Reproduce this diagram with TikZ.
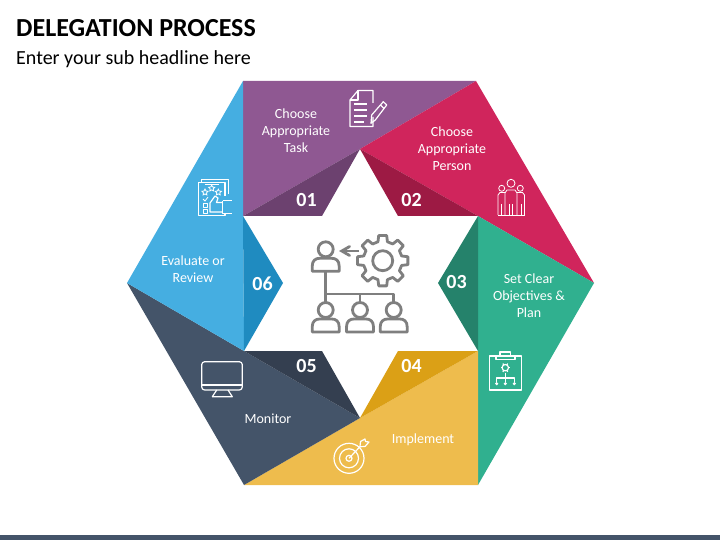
\documentclass[tikz,border=0pt]{standalone}
\usepackage{fontspec}
\setmainfont{Carlito}
\usetikzlibrary{shapes.geometric, arrows}

\definecolor{purplelight}{HTML}{8F5892}
\definecolor{purpledark}{HTML}{6C416F}
\definecolor{crimsonlight}{HTML}{D0255C}
\definecolor{crimsondark}{HTML}{9D1A44}
\definecolor{teallight}{HTML}{30B08F}
\definecolor{tealdark}{HTML}{25826B}
\definecolor{yellowlight}{HTML}{EEBC4D}
\definecolor{yellowdark}{HTML}{DBA016}
\definecolor{navylight}{HTML}{445469}
\definecolor{navydark}{HTML}{343F50}
\definecolor{bluelight}{HTML}{45AEE1}
\definecolor{bluedark}{HTML}{1F8BC0}
\definecolor{icongrey}{HTML}{7F7F7F}

\tikzstyle{headline} = [anchor=west, inner sep=0pt, font=\fontsize{26}{30}\selectfont\bfseries]
\tikzstyle{subline} = [anchor=west, inner sep=0pt, font=\fontsize{20}{24}\selectfont]
\tikzstyle{caption} = [inner sep=0pt, align=center, text=white, font=\fontsize{14}{17}\selectfont]
\tikzstyle{numtext} = [inner sep=0pt, text=white, font=\fontsize{20}{22}\selectfont\bfseries]
\tikzstyle{centreicon} = [draw=icongrey, line width=2.8pt, line join=round]
\tikzstyle{whiteicon} = [draw=white, line width=1.2pt, line join=round]
\tikzstyle{ratestar} = [star, star points=5, star point ratio=2, minimum size=6.5pt, inner sep=0pt, draw=white, line width=0.8pt]

\tikzset{worker/.pic={
  \draw [centreicon] (0,0) circle (7.5);
  \draw [centreicon] (-13.5,22) -- (13.5,22) -- (13.5,17) .. controls (13.5,11) and (10,9) .. (6,9) -- (-6,9) .. controls (-10,9) and (-13.5,11) .. (-13.5,17) -- cycle;
}}

\begin{document}
\begin{tikzpicture}[x=1pt, y=-1pt, >=angle 60]
\useasboundingbox (0,0) rectangle (720,540);

\node at (16,28.5) (title) [headline] {DELEGATION PROCESS};
\node at (16,59.5) (subtitle) [subline] {Enter your sub headline here};
\fill [navylight] (0,535) rectangle (720,540);

% outer hexagon
\coordinate (outertl) at (243,81);
\coordinate (outertr) at (476,81);
\coordinate (outerr) at (594,283);
\coordinate (outerbr) at (478,485);
\coordinate (outerbl) at (244,485);
\coordinate (outerl) at (127,283);

% inner star
\coordinate (innert) at (360,149);
\coordinate (innertr) at (478,216);
\coordinate (innerbr) at (478,351);
\coordinate (innerb) at (360,418);
\coordinate (innerbl) at (244,351);
\coordinate (innertl) at (243,216);

\fill [purplelight] (outertl) -- (outertr) -- (innert) -- (innertl) -- cycle;
\fill [purpledark] (innertl) -- (innert) -- (322,216) -- cycle;
\fill [crimsonlight] (outertr) -- (outerr) -- (innertr) -- (innert) -- cycle;
\fill [crimsondark] (innert) -- (innertr) -- (398,216) -- cycle;
\fill [teallight] (outerr) -- (outerbr) -- (innerbr) -- (innertr) -- cycle;
\fill [tealdark] (innertr) -- (innerbr) -- (438,283) -- cycle;
\fill [yellowlight] (outerbr) -- (outerbl) -- (innerb) -- (innerbr) -- cycle;
\fill [yellowdark] (innerbr) -- (innerb) -- (398,351) -- cycle;
\fill [navylight] (outerbl) -- (outerl) -- (innerbl) -- (innerb) -- cycle;
\fill [navydark] (innerbl) -- (innerb) -- (322,351) -- cycle;
\fill [bluelight] (outerl) -- (outertl) -- (innertl) -- (innerbl) -- cycle;
\fill [bluedark] (innertl) -- (innerbl) -- (283,283) -- cycle;

\node at (296,130.5) (task) [caption] {Choose\\Appropriate\\Task};
\node at (452,148.5) (person) [caption] {Choose\\Appropriate\\Person};
\node at (529,295.5) (objectives) [caption] {Set Clear\\Objectives \&\\Plan};
\node at (423,440) (implement) [caption] {Implement};
\node at (268,418.5) (monitor) [caption] {Monitor};
\node at (193,269.5) (evaluate) [caption] {Evaluate or\\Review};

\node at (306.5,200.5) (num1) [numtext] {01};
\node at (411.5,200.5) (num2) [numtext] {02};
\node at (456.5,282.5) (num3) [numtext] {03};
\node at (411.5,366.5) (num4) [numtext] {04};
\node at (306.5,366.5) (num5) [numtext] {05};
\node at (262.5,283.5) (num6) [numtext] {06};

% centre icon
\coordinate (boss) at (325.7,249.3);
\coordinate (bossfoot) at (325.7,271.5);
\coordinate (branch) at (325.7,294);
\coordinate (worker1) at (325.7,310);
\coordinate (worker2) at (360,310);
\coordinate (worker3) at (393.7,310);
\coordinate (gearleft) at (359,251);
\coordinate (bossright) at (339,251);
\pic at (boss) {worker};
\pic at (worker1) {worker};
\pic at (worker2) {worker};
\pic at (worker3) {worker};
\draw [centreicon] (bossfoot) -- (325.7,302);
\draw [centreicon] (branch) -- (393.7,294) -- (393.7,302);
\draw [centreicon] (360,294) -- (360,302);
\draw [centreicon, ->] (gearleft) -- (bossright);
\begin{scope}[shift={(382.7,260.7)}]
\draw [centreicon] (-9:25.5) \foreach \a in {0,45,...,315} { -- (\a-9:25.5) -- (\a+9:25.5) -- (\a+14:19.5) -- (\a+31:19.5) } -- cycle;
\draw [centreicon] (0,0) circle (10);
\end{scope}

% task icon
\draw [whiteicon] (373,103) -- (373,90.5) -- (358,90.5) -- (350,100) -- (350,126.5) -- (373,126.5) -- (373,117);
\draw [whiteicon] (358,90.5) -- (358,100) -- (350,100);
\foreach \y in {104,110,116} \draw [whiteicon] (354,\y) -- (367,\y);
\draw [whiteicon] (354,122) -- (364,122);
\draw [whiteicon] (371,123.3) -- (371.7,115) -- (383.3,101.7) -- (386.7,105) -- (375.3,120) -- cycle;
\draw [whiteicon] (380.5,105) -- (384,108.5);

% person icon
\draw [whiteicon, line width=0.8pt] (511,183.3) circle (4);
\draw [whiteicon, line width=0.8pt] (501.7,188.3) circle (3);
\draw [whiteicon, line width=0.8pt] (520.3,188.3) circle (3);
\draw [whiteicon, line width=0.8pt] (505,215) -- (505,193) -- (507,190) -- (515,190) -- (517,193) -- (517,215);
\draw [whiteicon, line width=0.8pt] (498,215) -- (498,195) -- (500,192.5) -- (505,192.5);
\draw [whiteicon, line width=0.8pt] (524.5,215) -- (524.5,195) -- (522.5,192.5) -- (517,192.5);
\foreach \x in {501,509.5,512.5,521} \draw [whiteicon, line width=0.8pt] (\x,204) -- (\x,215);
\draw [whiteicon, line width=0.8pt] (498,215) -- (524.5,215);

% objectives icon
\draw [whiteicon] (489.3,356) rectangle (521.7,390);
\draw [whiteicon] (496,356) -- (496,359.3) -- (515,359.3) -- (515,356) -- (510.5,356) -- (510.5,352) -- (500,352) -- (500,356) -- cycle;
\draw [whiteicon] (505.3,367.7) circle (3.2);
\foreach \a in {0,60,...,300} \draw [whiteicon] (505.3,367.7) ++(\a:3.2) -- ++(\a:1.6);
\draw [whiteicon] (505.3,372.5) -- (505.3,382);
\draw [whiteicon] (496.7,382) -- (496.7,378) -- (514.3,378) -- (514.3,382);
\foreach \x in {496.7,505.3,514.3} \fill [white] (\x,383.7) circle (1.7);

% implement icon
\draw [whiteicon] (349,458.3) circle (15);
\draw [whiteicon] (349,458.3) circle (9.5);
\draw [whiteicon] (349,458.3) circle (3);
\draw [whiteicon] (349,458.3) -- (360,446.7);
\draw [whiteicon] (360,446.7) -- (360.5,441.5) -- (365,439) -- (365.5,441.5) -- (369,442) -- (365,446.5) -- cycle;

% monitor icon
\draw [whiteicon, rounded corners=3pt] (201.7,361.7) rectangle (242.3,390);
\draw [whiteicon] (201.7,385) -- (242.3,385);
\draw [whiteicon] (216.7,390) -- (212.3,396.7) -- (232.3,396.7) -- (228,390);

% evaluate icon
\draw [whiteicon] (198.3,182.3) rectangle (225,215.7);
\draw [whiteicon] (201.7,182) -- (201.7,179.3) -- (228.3,179.3) -- (228.3,194);
\draw [whiteicon] (204.5,184.5) -- (219,184.5);
\node at (205,192.3) (star1) [ratestar] {};
\node at (211.7,188.3) (star2) [ratestar] {};
\node at (218.3,192.3) (star3) [ratestar] {};
\draw [whiteicon, line width=0.8pt] (203,199) -- (205,201) -- (208,197);
\draw [whiteicon, line width=0.8pt] (203,203.5) rectangle (207,207.5);
\draw [whiteicon, line width=0.8pt] (203,209.5) rectangle (207,213.5);
\fill [bluelight] (210,196) rectangle (232,214.5);
\draw [whiteicon] (222.7,200.7) -- (232,200.7);
\draw [whiteicon] (222.7,200.7) -- (222.7,213.3) -- (232,213.3);
\draw [whiteicon] (222.7,212) -- (210,212) -- (210,203) -- (215,196) -- (218,198) -- (216.5,202.5) -- (222.7,202.5);
\end{tikzpicture}
\end{document}
